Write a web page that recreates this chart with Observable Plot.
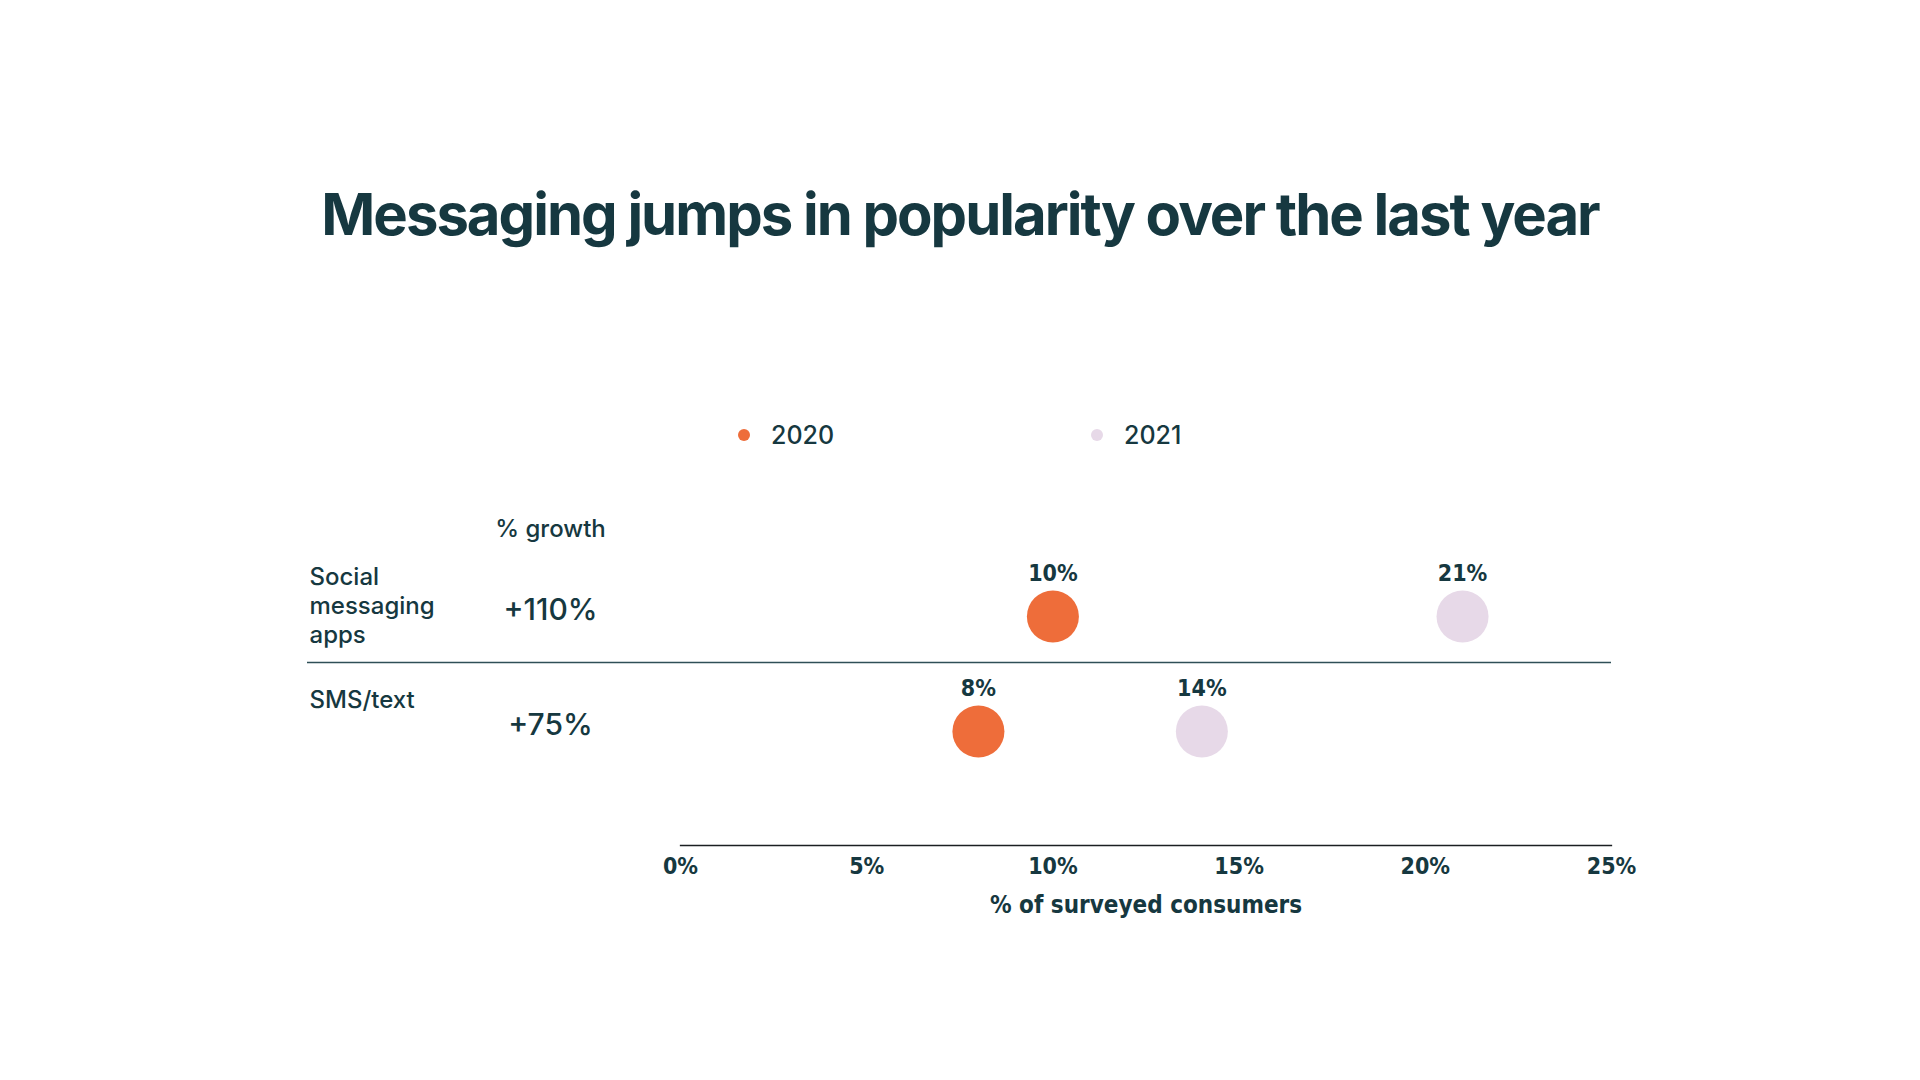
<!DOCTYPE html>
<html>
<head>
<meta charset="utf-8">
<script src="https://cdn.jsdelivr.net/npm/d3@7"></script>
<script src="https://cdn.jsdelivr.net/npm/@observablehq/plot@0.6"></script>
<style>
  html, body { margin: 0; padding: 0; background: #fff; }
  #page { position: relative; width: 1920px; height: 1080px; overflow: hidden; font-family: Inter, "Noto Sans", sans-serif; color: #163840; }
  #title { position: absolute; left: 0; width: 1920px; top: 179px; text-align: center; font-size: 58px; font-weight: 700; letter-spacing: -2px; line-height: 70px; }
  #legend { position: absolute; top: 417px; left: 738px; display: flex; font-size: 25px; font-weight: 500; line-height: 36px; }
  #legend .item { display: flex; align-items: center; width: 353px; }
  #legend .sw { width: 12px; height: 12px; border-radius: 50%; margin-right: 21px; }
  #chart { position: absolute; left: 0; top: 0; }
</style>
</head>
<body>
<div id="page">
  <div id="title"></div>
  <div id="legend"></div>
  <div id="chart"></div>
</div>
<script>
const titleText = "Messaging jumps in popularity over the last year";
const categories = ["Social messaging apps", "SMS/text"];
const rowLabels = ["Social\nmessaging\napps", "SMS/text"];
const years = ["2020", "2021"];
const colors = ["#EE6D3A", "#E7D9E8"];
const values2020 = [10, 8];
const values2021 = [21, 14];
const growth = ["+110%", "+75%"];
const growthHeader = "% growth";
const xTicks = [0, 5, 10, 15, 20, 25];
const xLabel = "% of surveyed consumers";
const textColor = "#163840";

document.getElementById("title").textContent = titleText;
const legend = document.getElementById("legend");
years.forEach((y, i) => {
  const item = document.createElement("div");
  item.className = "item";
  const sw = document.createElement("span");
  sw.className = "sw";
  sw.style.background = colors[i];
  const t = document.createElement("span");
  t.textContent = y;
  item.appendChild(sw); item.appendChild(t);
  legend.appendChild(item);
});

const points = [];
categories.forEach((c, i) => {
  points.push({category: c, year: years[0], value: values2020[i]});
  points.push({category: c, year: years[1], value: values2021[i]});
});
const rows = categories.map((c, i) => ({category: c, label: rowLabels[i], growth: growth[i]}));

const condensed = "'Liberation Sans Narrow', 'DejaVu Sans Condensed', Inter, sans-serif";

const chart = Plot.plot({
  width: 1920,
  height: 1080,
  marginLeft: 680,
  marginRight: 309,
  marginTop: 0,
  marginBottom: 235,
  style: {fontFamily: "Inter, 'Noto Sans', sans-serif", color: textColor, background: "transparent"},
  x: {domain: [0, 25], label: null},
  y: {type: "point", domain: categories, range: [616, 731], padding: 0, axis: null},
  color: {domain: years, range: colors},
  marks: [
    Plot.frame({anchor: "bottom", stroke: "#1b1f22", strokeWidth: 1.3}),
    Plot.ruleY([categories[1]], {dy: -69, insetLeft: -373, stroke: "#2f4f57", strokeWidth: 1.3}),
    Plot.axisX({ticks: xTicks, tickSize: 0, tickPadding: 12, tickFormat: d => d + "%", label: null,
      fontSize: 23, fontWeight: 700, fontFamily: condensed, fill: textColor}),
    Plot.text([xLabel], {x: () => 12.5, frameAnchor: "bottom", dy: 67, text: d => d,
      fontSize: 24, fontWeight: 600, fontFamily: condensed, fill: textColor}),
    Plot.dot(points, {x: "value", y: "category", r: 26, fill: "year", stroke: null}),
    Plot.text(points, {x: "value", y: "category", text: d => d.value + "%", dy: -43,
      fontSize: 23, fontWeight: 700, fontFamily: condensed, fill: textColor}),
    Plot.text(rows, {y: "category", text: "growth", frameAnchor: "left", dx: -130, dy: -6,
      textAnchor: "middle", fontSize: 30, fontWeight: 500, fill: textColor}),
    Plot.text([growthHeader], {y: () => categories[0], text: d => d, frameAnchor: "left", dx: -130, dy: -87,
      textAnchor: "middle", fontSize: 24, fontWeight: 500, fill: textColor}),
    Plot.text(rows.slice(0, 1), {y: "category", text: "label", frameAnchor: "left", dx: -371, dy: -12,
      textAnchor: "start", lineAnchor: "middle", lineHeight: 1.2, fontSize: 24, fontWeight: 500, fill: textColor}),
    Plot.text(rows.slice(1), {y: "category", text: "label", frameAnchor: "left", dx: -371, dy: -31,
      textAnchor: "start", lineAnchor: "middle", fontSize: 24, fontWeight: 500, fill: textColor})
  ]
});
document.getElementById("chart").appendChild(chart);
</script>
</body>
</html>
